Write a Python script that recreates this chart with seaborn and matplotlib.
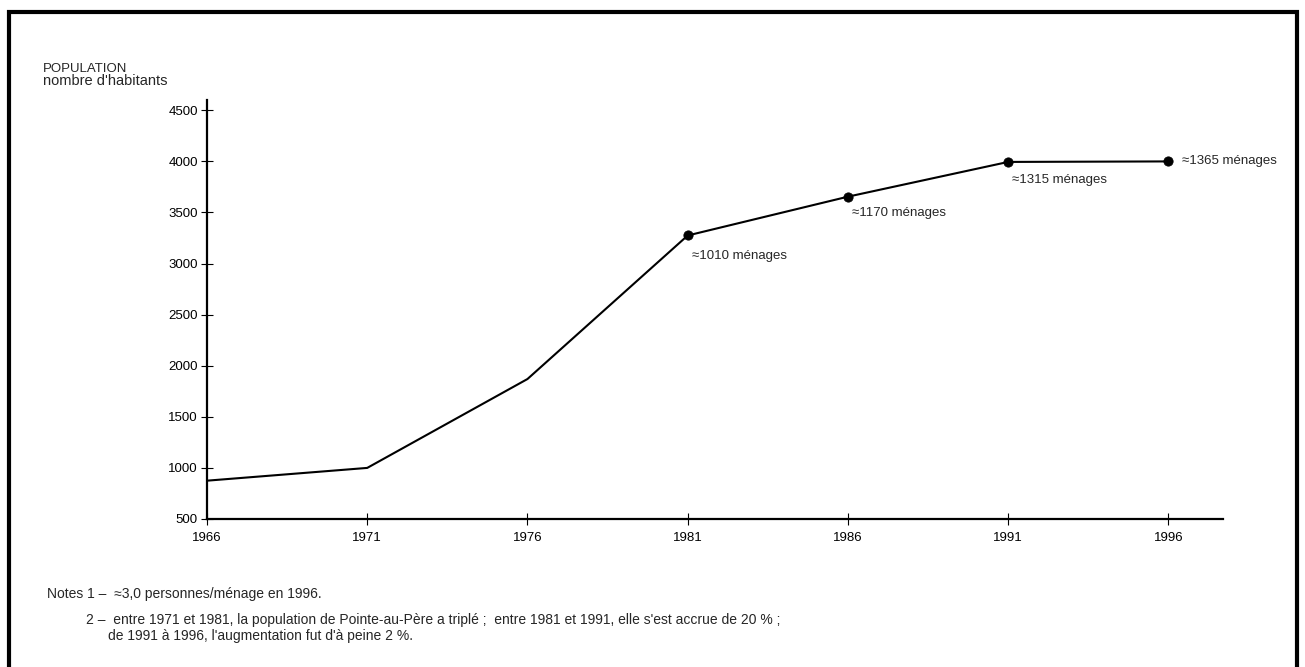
import pandas as pd
import seaborn as sns
import matplotlib.pyplot as plt
from matplotlib.patches import Rectangle

# population of Pointe-au-Pere by census year
years = [1966, 1971, 1976, 1981, 1986, 1991, 1996]
population = [875, 1000, 1870, 3275, 3655, 3995, 4000]

# census years with a household count
menage_years = [1981, 1986, 1991, 1996]
menage_pop = [3275, 3655, 3995, 4000]
menage_labels = ["≈1010 ménages", "≈1170 ménages", "≈1315 ménages", "≈1365 ménages"]

y_ticks = [500, 1000, 1500, 2000, 2500, 3000, 3500, 4000, 4500]

df = pd.DataFrame({"annee": years, "population": population})
dfm = pd.DataFrame({"annee": menage_years, "population": menage_pop, "label": menage_labels})

sns.set_style("white")
plt.rcParams["font.family"] = ["Liberation Sans", "DejaVu Sans"]

fig = plt.figure(figsize=(13.05, 6.67), dpi=100)
ax = fig.add_axes([0.1586, 0.2219, 0.7785, 0.628])

sns.lineplot(x="annee", y="population", data=df, ax=ax, color="black", linewidth=1.5)
sns.scatterplot(x="annee", y="population", data=dfm, ax=ax, color="black", s=45, edgecolor="black", zorder=3)

# household labels next to the points
offsets = [(3, -14.5), (3, -12), (3, -13), (10, 0)]
for (_, r), off in zip(dfm.iterrows(), offsets):
    ax.annotate(r["label"], (r["annee"], r["population"]), xytext=off, textcoords="offset points",
                ha="left", va="center", fontsize=9.5)

ax.set_xlim(1966, 1997.7)
ax.set_ylim(500, 4600)
ax.set_xticks(years)
ax.set_xticklabels([str(y) for y in years])
ax.set_yticks(y_ticks)
ax.set_xlabel("")
ax.set_ylabel("")
for s in ["top", "right"]:
    ax.spines[s].set_visible(False)
for s in ["left", "bottom"]:
    ax.spines[s].set_linewidth(1.6)
    ax.spines[s].set_color("black")
ax.tick_params(axis="both", bottom=True, left=True, direction="inout", length=9, width=0.8,
               colors="black", labelsize=9.5)
ax.tick_params(axis="x", pad=5)
ax.tick_params(axis="y", pad=2)

fig.text(0.033, 0.896, "POPULATION", fontsize=9.5, va="center")
fig.text(0.033, 0.878, "nombre d'habitants", fontsize=10.5, va="center")

fig.text(0.036, 0.109, "Notes 1 –  ≈3,0 personnes/ménage en 1996.", fontsize=10, va="center")
fig.text(0.066, 0.070, "2 –  entre 1971 et 1981, la population de Pointe-au-Père a triplé ;  entre 1981 et 1991, elle s'est accrue de 20 % ;",
         fontsize=10, va="center")
fig.text(0.0825, 0.046, "de 1991 à 1996, l'augmentation fut d'à peine 2 %.", fontsize=10, va="center")

# frame round the figure
fig.patches.append(Rectangle((0.007, -0.02), 0.987, 1.002, transform=fig.transFigure,
                             fill=False, edgecolor="black", linewidth=3))

fig.savefig("out.png", dpi=100)
